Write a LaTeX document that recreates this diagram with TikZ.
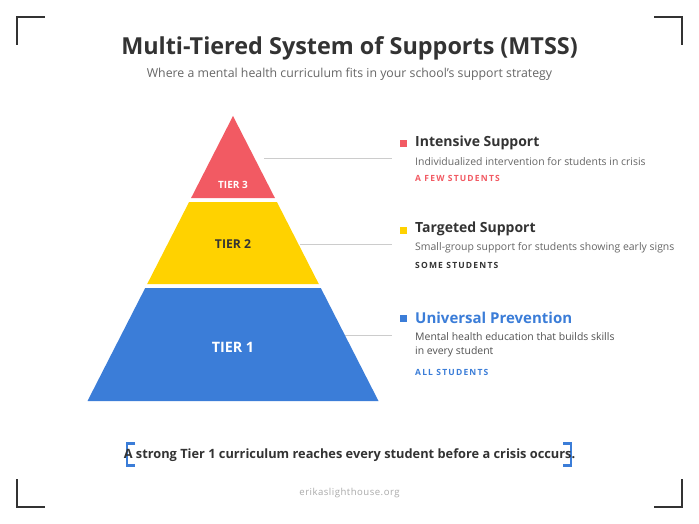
\documentclass[tikz,border=0pt]{standalone}
\usepackage{fontspec}
\setmainfont{Open Sans}
\definecolor{tred}{HTML}{F25A63}
\definecolor{tyellow}{HTML}{FFD200}
\definecolor{tblue}{HTML}{3B7DD8}
\definecolor{ink}{HTML}{333333}
\definecolor{desc}{HTML}{666666}
\definecolor{rule}{HTML}{CCCCCC}
\definecolor{foot}{HTML}{AAAAAA}
\begin{document}
\begin{tikzpicture}[x=1pt,y=-1pt,
  corner/.style={draw=ink,line width=2.6pt},
  lead/.style={draw=rule,line width=0.8pt},
  head/.style={anchor=west,inner sep=0pt,font=\bfseries\fontsize{14}{16}\selectfont},
  body/.style={anchor=west,inner sep=0pt,text=desc,font=\fontsize{10.45}{14.3}\selectfont,align=left},
  tag/.style={anchor=west,inner sep=0pt,font=\bfseries\fontsize{8.5}{10}\selectfont\addfontfeature{LetterSpace=14}},
  tierlab/.style={inner sep=0pt,font=\bfseries},
  sq/.style={minimum size=7pt,inner sep=0pt}]
\useasboundingbox[fill=white] (0,0) rectangle (699,524);
% corner marks
\draw[corner] (17,45) -- (17,17) -- (45,17);
\draw[corner] (654,17) -- (682,17) -- (682,45);
\draw[corner] (17,479) -- (17,507) -- (45,507);
\draw[corner] (654,507) -- (682,507) -- (682,479);
% title
\node[text=ink,font=\bfseries\fontsize{23.4}{27}\selectfont] (title) at (349.5,48) {Multi-Tiered System of Supports (MTSS)};
\node[text=desc,font=\fontsize{12.3}{15}\selectfont] (sub) at (349.5,74) {Where a mental health curriculum fits in your school’s support strategy};
% leader lines
\coordinate (l3a) at (264,158.3); \coordinate (l3b) at (392,158.3);
\coordinate (l2a) at (300,244.3); \coordinate (l2b) at (392,244.3);
\coordinate (l1a) at (343,335.3); \coordinate (l1b) at (392,335.3);
\draw[lead] (l3a) -- (l3b);
\draw[lead] (l2a) -- (l2b);
\draw[lead] (l1a) -- (l1b);
% pyramid
\fill[tred] (233,116) -- (274.9,198) -- (191.1,198) -- cycle;
\fill[tyellow] (189.1,202) -- (276.9,202) -- (318.8,284) -- (147.2,284) -- cycle;
\fill[tblue] (145.2,288) -- (320.8,288) -- (378.5,401) -- (87.5,401) -- cycle;
\node[tierlab,text=white,font=\bfseries\fontsize{10}{12}\selectfont] (t3) at (233,185) {TIER 3};
\node[tierlab,text=ink,font=\bfseries\fontsize{12.2}{14}\selectfont] (t2) at (233,244.5) {TIER 2};
\node[tierlab,text=white,font=\bfseries\fontsize{14.3}{16}\selectfont] (t1) at (233,347) {TIER 1};
% tier 3 text
\node[sq,fill=tred] (s3) at (403.7,143.5) {};
\node[head,text=ink] (h3) at (415,143) {Intensive Support};
\node[body] (d3) at (415,161.5) {Individualized intervention for students in crisis};
\node[tag,text=tred] (g3) at (415,178.7) {A FEW STUDENTS};
% tier 2 text
\node[sq,fill=tyellow] (s2) at (403.7,230) {};
\node[head,text=ink] (h2) at (415,229.3) {Targeted Support};
\node[body] (d2) at (415,247.7) {Small-group support for students showing early signs};
\node[tag,text=ink] (g2) at (415,265) {SOME STUDENTS};
% tier 1 text
\node[sq,fill=tblue] (s1) at (403.7,318.7) {};
\node[head,text=tblue,font=\bfseries\fontsize{15}{17}\selectfont] (h1) at (415,318.3) {Universal Prevention};
\node[body,text=ink!85,anchor=north west] (d1) at (415,332) {Mental health education that builds skills\\in every student};
\node[tag,text=tblue] (g1) at (415,372.3) {ALL STUDENTS};
% bottom statement
\draw[tblue,line width=2.2pt] (135,443.5) -- (127,443.5) -- (127,465.5) -- (135,465.5);
\draw[tblue,line width=2.2pt] (563,443.5) -- (571,443.5) -- (571,465.5) -- (563,465.5);
\node[text=ink,font=\bfseries\fontsize{12.8}{15}\selectfont] (bottom) at (349.5,455) {A strong Tier 1 curriculum reaches every student before a crisis occurs.};
\node[text=foot,font=\fontsize{9.6}{12}\selectfont\addfontfeature{LetterSpace=5}] (url) at (349.5,492.7) {erikaslighthouse.org};
\end{tikzpicture}
\end{document}
